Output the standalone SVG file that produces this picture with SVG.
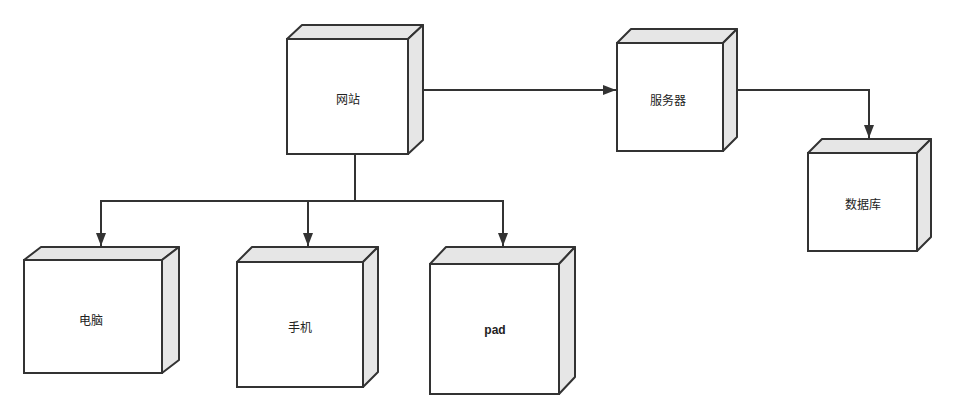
<svg xmlns="http://www.w3.org/2000/svg" width="956" height="420" viewBox="0 0 956 420">
<defs>
<marker id="arr" markerWidth="14" markerHeight="11" refX="13" refY="5" orient="auto" markerUnits="userSpaceOnUse">
<path d="M0,0 L13,5 L0,10 Z" fill="#333"/>
</marker>
<style>
.front{fill:#fff;stroke:#333;stroke-width:2}
.side{fill:#e6e6e6;stroke:#333;stroke-width:2;stroke-linejoin:round}
.lbl{font-family:"Noto Sans CJK SC","Liberation Sans",sans-serif;font-size:12px;fill:#222;text-anchor:middle;dominant-baseline:central}
.bold{font-family:"Liberation Sans",sans-serif;font-weight:bold}
.conn{fill:none;stroke:#333;stroke-width:2}
</style>
</defs>
<rect width="956" height="420" fill="#fff"/>
<g id="connectors">
<path class="conn" d="M423 90 H616" marker-end="url(#arr)"/>
<path class="conn" d="M737 90 H869 V138" marker-end="url(#arr)"/>
<path class="conn" d="M355 154 V201 H101 V246" marker-end="url(#arr)"/>
<path class="conn" d="M355 201 H308 V246" marker-end="url(#arr)"/>
<path class="conn" d="M355 201 H503 V246" marker-end="url(#arr)"/>
</g>
<g id="wangzhan">
<path class="side" d="M287 39 L302 25 L423 25 L408 39 Z"/>
<path class="side" d="M408 39 L423 25 L423 140 L408 154 Z"/>
<rect class="front" x="287" y="39" width="121" height="115"/>
<text class="lbl" x="348" y="98">网站</text>
</g>
<g id="fuwuqi">
<path class="side" d="M617 43 L631 29 L737 29 L723 43 Z"/>
<path class="side" d="M723 43 L737 29 L737 137 L723 151 Z"/>
<rect class="front" x="617" y="43" width="106" height="108"/>
<text class="lbl" x="668" y="99">服务器</text>
</g>
<g id="shujuku">
<path class="side" d="M808 153 L822 139 L931 139 L917 153 Z"/>
<path class="side" d="M917 153 L931 139 L931 237 L917 251 Z"/>
<rect class="front" x="808" y="153" width="109" height="98"/>
<text class="lbl" x="863" y="203">数据库</text>
</g>
<g id="diannao">
<path class="side" d="M24 260 L41 247 L179 247 L162 260 Z"/>
<path class="side" d="M162 260 L179 247 L179 360 L162 373 Z"/>
<rect class="front" x="24" y="260" width="138" height="113"/>
<text class="lbl" x="91" y="319">电脑</text>
</g>
<g id="shouji">
<path class="side" d="M237 262 L252 247 L378 247 L363 262 Z"/>
<path class="side" d="M363 262 L378 247 L378 372 L363 387 Z"/>
<rect class="front" x="237" y="262" width="126" height="125"/>
<text class="lbl" x="300" y="326">手机</text>
</g>
<g id="pad">
<path class="side" d="M430 264 L446 247 L575 247 L559 264 Z"/>
<path class="side" d="M559 264 L575 247 L575 377 L559 394 Z"/>
<rect class="front" x="430" y="264" width="129" height="130"/>
<text class="lbl bold" x="495" y="330">pad</text>
</g>
</svg>
